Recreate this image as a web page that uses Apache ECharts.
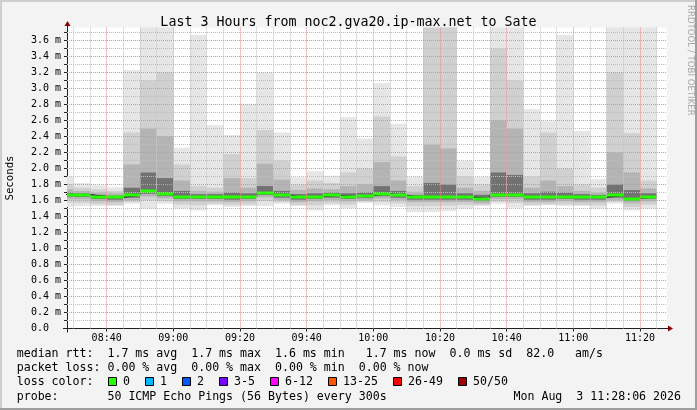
<!DOCTYPE html>
<html><head><meta charset="utf-8">
<script src="https://cdn.jsdelivr.net/npm/echarts@6/dist/echarts.min.js"></script>
<style>html,body{margin:0;padding:0;background:#f3f3f3}#c{width:697px;height:410px}</style>
</head><body><div id="c"></div>
<script>
// ---- data (milliseconds) ----
const barStarts = ['08:25','08:30','08:35','08:40','08:45','08:50','08:55','09:00','09:05','09:10','09:15','09:20','09:25','09:30','09:35','09:40','09:45','09:50','09:55','10:00','10:05','10:10','10:15','10:20','10:25','10:30','10:35','10:40','10:45','10:50','10:55','11:00','11:05','11:10','11:15','11:20'];
const rttMin = [1.52,1.53,1.53,1.53,1.56,1.50,1.56,1.50,1.475,1.54,1.52,1.53,1.53,1.56,1.53,1.475,1.54,1.505,1.57,1.54,1.52,1.455,1.455,1.47,1.50,1.53,1.56,1.51,1.53,1.54,1.53,1.53,1.50,1.56,1.475,1.50];
const rttP10 = [1.575,1.57,1.555,1.545,1.58,1.60,1.59,1.55,1.54,1.56,1.545,1.55,1.59,1.58,1.545,1.54,1.565,1.55,1.585,1.58,1.565,1.53,1.53,1.535,1.545,1.545,1.585,1.57,1.545,1.55,1.55,1.545,1.54,1.58,1.52,1.55];
const rttP25 = [1.615,1.615,1.59,1.58,1.605,1.65,1.625,1.59,1.59,1.59,1.58,1.59,1.64,1.605,1.58,1.59,1.605,1.59,1.60,1.625,1.605,1.58,1.58,1.58,1.58,1.565,1.615,1.615,1.58,1.58,1.59,1.58,1.58,1.605,1.565,1.59];
const rttP40 = [1.645,1.645,1.62,1.61,1.635,1.685,1.655,1.62,1.62,1.62,1.61,1.62,1.67,1.635,1.61,1.62,1.635,1.62,1.63,1.655,1.635,1.61,1.61,1.61,1.61,1.595,1.645,1.645,1.61,1.61,1.62,1.61,1.61,1.635,1.595,1.62];
const rttMedian = [1.675,1.675,1.65,1.64,1.665,1.715,1.685,1.65,1.65,1.65,1.64,1.65,1.70,1.665,1.64,1.65,1.665,1.65,1.66,1.685,1.665,1.64,1.64,1.64,1.64,1.625,1.675,1.675,1.64,1.64,1.65,1.64,1.64,1.665,1.625,1.65];
const rttP60 = [1.70,1.69,1.67,1.66,1.76,1.95,1.88,1.72,1.68,1.68,1.70,1.69,1.78,1.72,1.68,1.69,1.70,1.69,1.70,1.78,1.72,1.67,1.82,1.80,1.69,1.67,1.95,1.92,1.69,1.71,1.70,1.68,1.67,1.80,1.73,1.69];
const rttP75 = [1.74,1.72,1.70,1.69,2.05,2.50,2.40,1.85,1.72,1.71,1.88,1.76,2.06,1.86,1.73,1.75,1.74,1.78,1.80,2.08,1.85,1.71,2.30,2.25,1.76,1.72,2.60,2.50,1.76,1.85,1.78,1.72,1.70,2.20,1.95,1.75];
const rttP90 = [1.80,1.76,1.74,1.72,2.45,3.10,3.20,2.05,1.78,1.76,2.18,1.88,2.48,2.10,1.80,1.85,1.82,1.95,2.00,2.65,2.15,1.78,3.90,3.90,1.90,1.80,3.50,3.10,1.90,2.45,2.00,1.80,1.76,3.20,2.44,1.85];
const rttMax = [1.90,1.82,1.79,1.765,3.23,4.20,4.00,2.26,3.67,2.54,2.42,2.81,3.20,2.45,1.89,1.965,1.91,2.64,2.375,3.065,2.56,1.90,4.60,4.40,2.095,1.895,4.30,4.10,2.74,2.59,3.67,2.47,1.865,4.20,4.00,3.90];

const timeLabels = ['08:40','09:00','09:20','09:40','10:00','10:20','10:40','11:00','11:20'];
const minorTimeTicks = ['08:30','08:35','08:45','08:50','08:55','09:05','09:10','09:15','09:25','09:30','09:35','09:45','09:50','09:55','10:05','10:10','10:15','10:25','10:30','10:35','10:45','10:50','10:55','11:05','11:10','11:15','11:25'];
const yMajorTicks = [0,0.2,0.4,0.6,0.8,1.0,1.2,1.4,1.6,1.8,2.0,2.2,2.4,2.6,2.8,3.0,3.2,3.4,3.6];
const yMinorTicks = [0.1,0.3,0.5,0.7,0.9,1.1,1.3,1.5,1.7,1.9,2.1,2.3,2.5,2.7,2.9,3.1,3.3,3.5,3.7];
const windowStart = '08:28:06', windowEnd = '11:28:06';
const stepMinutes = 5;
const yMax = 3.7625;

const lossColors = [['0','#26ff00'],['1','#00b8ff'],['2','#0059ff'],['3-5','#7e00ff'],['6-12','#ff00ff'],['13-25','#ff5500'],['26-49','#ff0000'],['50/50','#a10000']];
const statsRtt = "median rtt:  1.7 ms avg  1.7 ms max  1.6 ms min   1.7 ms now  0.0 ms sd  82.0   am/s";
const statsLoss = "packet loss: 0.00 % avg  0.00 % max  0.00 % min  0.00 % now";
const probeText = "probe:       50 ICMP Echo Pings (56 Bytes) every 300s";
const dateText = "Mon Aug  3 11:28:06 2026";
const titleText = "Last 3 Hours from noc2.gva20.ip-max.net to Sate";

// ---- helpers ----
function toMin(s){const p=s.split(':').map(Number);return p[0]*60+p[1]+(p[2]||0)/60;}
function fmtMin(v){const h=Math.floor(v/60+1e-9),m=Math.round(v-h*60);return (h<10?'0':'')+h+':'+(m<10?'0':'')+m;}

const MONO = 'DejaVu Sans Mono';
const G = {left:67, top:27.5, width:600, height:301};
const AXIS_Y = G.top + G.height; // 328.5

const smokeData = barStarts.map((s,i)=>[toMin(s), toMin(s)+stepMinutes, rttMin[i], rttP10[i], rttP25[i], rttP40[i], rttMedian[i], rttP60[i], rttP75[i], rttP90[i], rttMax[i]]);
const stepLine = barStarts.map((s,i)=>[toMin(s), rttMedian[i]]);
stepLine.push([toMin(barStarts[barStarts.length-1])+stepMinutes, rttMedian[rttMedian.length-1]]);

const bands = [[2,10,'#e6e6e6'],[3,9,'#d0d0d0'],[4,8,'#b4b4b4'],[5,7,'#727272']];

function clipTo(r, cs){return echarts.graphic.clipRectByRect(r,{x:cs.x,y:cs.y,width:cs.width,height:cs.height});}

function renderSmoke(params, api){
  const cs = params.coordSys;
  const t0 = api.value(0), t1 = api.value(1);
  const children = [];
  bands.forEach(([lo,hi,c])=>{
    const p0 = api.coord([t0, api.value(hi)]), p1 = api.coord([t1, api.value(lo)]);
    const r = clipTo({x:p0[0], y:p0[1], width:p1[0]-p0[0], height:p1[1]-p0[1]}, cs);
    if (r) children.push({type:'rect', shape:r, style:{fill:c}});
  });
  return {type:'group', children};
}
function renderMedian(params, api){
  const cs = params.coordSys;
  const t0 = api.value(0), t1 = api.value(1);
  const p0 = api.coord([t0, api.value(6)]), p1 = api.coord([t1, api.value(6)]);
  const r = clipTo({x:p0[0], y:Math.round(p0[1])-1.5, width:p1[0]-p0[0], height:3}, cs);
  return r ? {type:'rect', shape:r, style:{fill:'#26ff00'}} : null;
}

const gridMinor = {color:'#bdbdbd', width:1, type:[1,1]};
const gridMajor = {color:'#ee8a8a', width:1, type:[1,1]};
const markData = [];
minorTimeTicks.forEach(t=>markData.push({xAxis:toMin(t), lineStyle:gridMinor}));
yMinorTicks.forEach(v=>markData.push({yAxis:v, lineStyle:gridMinor}));
timeLabels.forEach(t=>markData.push({xAxis:toMin(t), lineStyle:gridMajor}));
yMajorTicks.filter(v=>v>0).forEach(v=>markData.push({yAxis:v, lineStyle:gridMajor}));

const FONT_L = '11.6px "'+MONO+'"';
const graphics = [
  {type:'rect', shape:{x:0,y:0,width:697,height:2}, style:{fill:'#cfcfcf'}, silent:true},
  {type:'rect', shape:{x:0,y:0,width:2,height:410}, style:{fill:'#cfcfcf'}, silent:true},
  {type:'rect', shape:{x:0,y:408,width:697,height:2}, style:{fill:'#9e9e9e'}, silent:true},
  {type:'rect', shape:{x:695,y:0,width:2,height:410}, style:{fill:'#9e9e9e'}, silent:true},
  {type:'text', x:690, y:5, rotation:-Math.PI/2, style:{text:'RRDTOOL / TOBI OETIKER', font:'8.6px "DejaVu Sans"', fill:'#a8a8a8', textAlign:'left', textVerticalAlign:'middle'}},
  {type:'line', shape:{x1:G.left-4, y1:AXIS_Y, x2:G.left+G.width+2, y2:AXIS_Y}, style:{stroke:'#202020', lineWidth:1}},
  {type:'line', shape:{x1:G.left+0.5, y1:AXIS_Y+4, x2:G.left+0.5, y2:G.top-2}, style:{stroke:'#202020', lineWidth:1}},
  {type:'polygon', shape:{points:[[G.left-2.5,G.top-1.5],[G.left+3.5,G.top-1.5],[G.left+0.5,G.top-6.5]]}, style:{fill:'#8b0000'}},
  {type:'polygon', shape:{points:[[G.left+G.width+1,AXIS_Y-3],[G.left+G.width+1,AXIS_Y+3],[G.left+G.width+6,AXIS_Y]]}, style:{fill:'#8b0000'}},
  {type:'text', x:16.7, y:354, style:{text:statsRtt, font:FONT_L, fill:'#000', textVerticalAlign:'middle'}},
  {type:'text', x:16.7, y:368, style:{text:statsLoss, font:FONT_L, fill:'#000', textVerticalAlign:'middle'}},
  {type:'text', x:16.7, y:382, style:{text:'loss color:', font:FONT_L, fill:'#000', textVerticalAlign:'middle'}},
  {type:'text', x:16.7, y:397, style:{text:probeText, font:FONT_L, fill:'#000', textVerticalAlign:'middle'}},
  {type:'text', x:681, y:397, style:{text:dateText, font:FONT_L, fill:'#000', textAlign:'right', textVerticalAlign:'middle'}}
];
let lx = 123;
lossColors.forEach(([lab,col])=>{
  graphics.push({type:'rect', shape:{x:lx-14.5, y:377.5, width:8, height:8}, style:{fill:col, stroke:'#000', lineWidth:1}});
  graphics.push({type:'text', x:lx, y:382, style:{text:lab, font:FONT_L, fill:'#000', textVerticalAlign:'middle'}});
  lx += lab.length*7 + 30;
});

const chart = echarts.init(document.getElementById('c'), null, {renderer:'canvas'});
chart.setOption({
  animation:false,
  backgroundColor:'#f3f3f3',
  title:{text:titleText, left:'center', top:11, textStyle:{fontFamily:MONO, fontSize:13.3, fontWeight:'normal', color:'#000'}},
  grid:{left:G.left, top:G.top, width:G.width, height:G.height, show:true, backgroundColor:'#ffffff', borderWidth:0, containLabel:false, outerBoundsMode:'none'},
  xAxis:{type:'value', min:toMin(windowStart), max:toMin(windowEnd),
    axisLine:{show:false}, splitLine:{show:false},
    axisTick:{show:true, customValues:timeLabels.map(toMin), length:3, lineStyle:{color:'#202020'}},
    axisLabel:{customValues:timeLabels.map(toMin), formatter:v=>fmtMin(v), fontFamily:MONO, fontSize:10, color:'#000', margin:5}},
  yAxis:{type:'value', min:0, max:yMax,
    name:'Seconds', nameLocation:'middle', nameRotate:90, nameGap:51, nameTextStyle:{fontFamily:MONO, fontSize:10.7, color:'#000'},
    axisLine:{show:false}, splitLine:{show:false},
    axisTick:{show:true, customValues:yMajorTicks.concat(yMinorTicks), length:3, lineStyle:{color:'#202020'}},
    axisLabel:{customValues:yMajorTicks, formatter:v=>v===0?'0.0':v.toFixed(1)+' m', align:'left', margin:36, fontFamily:MONO, fontSize:10, color:'#000'}},
  series:[
    {type:'custom', name:'smoke', data:smokeData, renderItem:renderSmoke, encode:{x:[0,1], y:[2,10]}, z:1, silent:true},
    {type:'line', name:'grid', data:[], z:2, silent:true,
      markLine:{silent:true, symbol:['none','none'], label:{show:false}, emphasis:{disabled:true}, data:markData}},
    {type:'line', name:'medianStep', data:stepLine, step:'end', showSymbol:false, symbol:'none', lineStyle:{color:'#1a1a1a', width:1}, z:3, silent:true},
    {type:'custom', name:'median', data:smokeData, renderItem:renderMedian, encode:{x:[0,1], y:6}, z:4, silent:true}
  ],
  graphic:graphics
});
</script>
</body></html>
